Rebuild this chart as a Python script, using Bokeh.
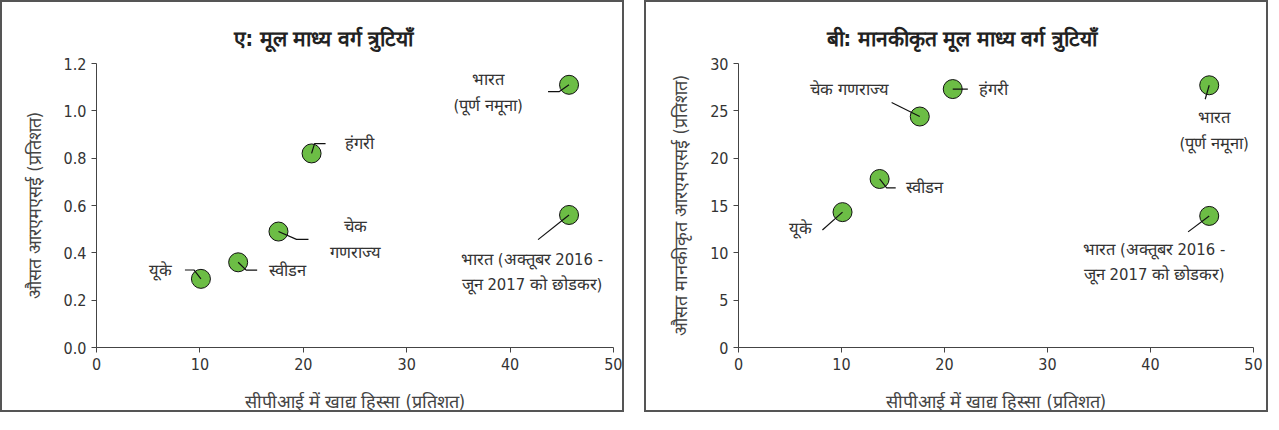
from bokeh.plotting import figure
from bokeh.layouts import row
from bokeh.models import ColumnDataSource, Range1d, FixedTicker, CustomJSTickFormatter, Title
from bokeh.core.properties import value
from bokeh.embed import file_html
from bokeh.resources import INLINE

# ---------------- data ----------------
food_share = [10.1, 13.7, 17.6, 20.8, 45.7, 45.7]
rmse = [0.29, 0.36, 0.49, 0.82, 1.11, 0.56]
std_rmse = [14.3, 17.8, 24.4, 27.3, 27.7, 13.9]
labels_a = ["यूके", "स्वीडन", "चेक\nगणराज्य", "हंगरी",
            "भारत\n(पूर्ण नमूना)", "भारत (अक्तूबर 2016 -\nजून 2017 को छोडकर)"]
labels_b = ["यूके", "स्वीडन", "चेक गणराज्य", "हंगरी",
            "भारत\n(पूर्ण नमूना)", "भारत (अक्तूबर 2016 -\nजून 2017 को छोडकर)"]
x_ticks = [0, 10, 20, 30, 40, 50]
y_ticks_a = [0.0, 0.2, 0.4, 0.6, 0.8, 1.0, 1.2]
y_ticks_b = [0, 5, 10, 15, 20, 25, 30]
title_a = "ए: मूल माध्य वर्ग त्रुटियाँ"
title_b = "बी: मानकीकृत मूल माध्य वर्ग त्रुटियाँ"
xlabel = "सीपीआई में खाद्य हिस्सा (प्रतिशत)"
ylabel_a = "औसत आरएमएसई (प्रतिशत)"
ylabel_b = "औसत मानकीकृत आरएमएसई (प्रतिशत)"

# ---------------- styling / positions (screen px) ----------------
FONT = "DejaVu Sans Condensed"
TXT = "#333333"
GREEN = "#6cbd45"

# label offsets (dx, dy) in px from the point, dy downward; align
lab_a = [(-40, -8, "center"), (31, 8, "left"), (77, 8, "center"), (33, -10, "left"),
         (-81, 8, "center"), (-37, 57, "center")]
lab_b = [(-42, 16, "center"), (26, 9, "left"), (-70, -27, "center"), (26, 0, "left"),
         (5, 45, "center"), (-55, 46, "center")]
lead_a = [[(0, 0), (-7, -9), (-16, -9)], [(0, 0), (8, 8), (19, 8)], [(0, 0), (18, 8), (30, 8)],
          [(0, 0), (3, -10), (14, -10)], [(0, 0), (-10, 7), (-21, 7)], [(0, 0), (-31, 25)]]
lead_b = [[(0, 0), (-20, 18)], [(0, 0), (7, 9), (16, 9)], [(0, 0), (-28, -14)],
          [(0, 0), (15, 0)], [(0, 0), (-4, 14)], [(0, 0), (-21, 16)]]


def make_panel(ys, labels, lab, lead, yticks, ymax, title, ylabel, fmt,
               bl, br, bt, bb, ystand, xstand, fw, fh, toff, W=624, H=412):
    p = figure(width=W, height=H, output_backend="svg", toolbar_location=None,
               x_range=Range1d(0, 50), y_range=Range1d(0, ymax),
               min_border_left=bl, min_border_right=br, min_border_top=bt, min_border_bottom=bb,
               title=None)
    p.styles = {"border": "2px solid #555555", "box-sizing": "border-box"}
    p.outline_line_color = None
    p.grid.visible = False
    p.add_layout(Title(text=title, align="left", vertical_align="top",
                       text_font=FONT, text_font_size="21px", text_font_style="bold",
                       text_color="#222222", offset=toff, standoff=21), "above")

    xs_scale = fw / 50.0
    ys_scale = fh / ymax
    lx, ly = [], []
    for x0, y0, pts in zip(food_share, ys, lead):
        lx.append([x0 + dx / xs_scale for dx, dy in pts])
        ly.append([y0 - dy / ys_scale for dx, dy in pts])
    p.scatter(food_share, ys, size=19, fill_color=GREEN, line_color="#111111", line_width=1)
    p.multi_line(lx, ly, line_color="#111111", line_width=1.2)

    src = ColumnDataSource(dict(x=food_share, y=ys, text=labels,
                                dx=[l[0] for l in lab], dy=[l[1] for l in lab],
                                align=[l[2] for l in lab]))
    p.text("x", "y", text="text", x_offset="dx", y_offset="dy", text_align="align",
           text_baseline="middle", source=src, text_font=value(FONT), text_font_size="16.5px",
           text_color=TXT, text_line_height=1.35)

    for ax in (p.xaxis[0], p.yaxis[0]):
        ax.major_tick_in = 0
        ax.major_tick_out = 5
        ax.minor_tick_line_color = None
        ax.axis_line_color = "#444444"
        ax.major_tick_line_color = "#444444"
        ax.major_label_text_font = FONT
        ax.major_label_text_font_size = "16px"
        ax.major_label_text_color = TXT
        ax.axis_label_text_font = FONT
        ax.axis_label_text_font_size = "18px"
        ax.axis_label_text_font_style = "normal"
        ax.axis_label_text_color = "#444444"
    p.xaxis.ticker = FixedTicker(ticks=x_ticks)
    p.yaxis.ticker = FixedTicker(ticks=yticks)
    p.yaxis.formatter = CustomJSTickFormatter(code=fmt)
    p.xaxis.axis_label = xlabel
    p.yaxis.axis_label = ylabel
    p.xaxis.axis_label_standoff = xstand
    p.yaxis.axis_label_standoff = ystand
    return p


pa = make_panel(rmse, labels_a, lab_a, lead_a, y_ticks_a, 1.2, title_a, ylabel_a,
                "return tick.toFixed(1);", 94, 13, 61, 40, 16, 18, 517, 288, 137)
pb = make_panel(std_rmse, labels_b, lab_b, lead_b, y_ticks_b, 30, title_b, ylabel_b,
                "return tick.toFixed(0);", 92, 17, 59, 40, 16, 18, 512, 285, 88)

layout = row(pa, pb, spacing=20)
open("out.html", "w").write(file_html(layout, INLINE))
